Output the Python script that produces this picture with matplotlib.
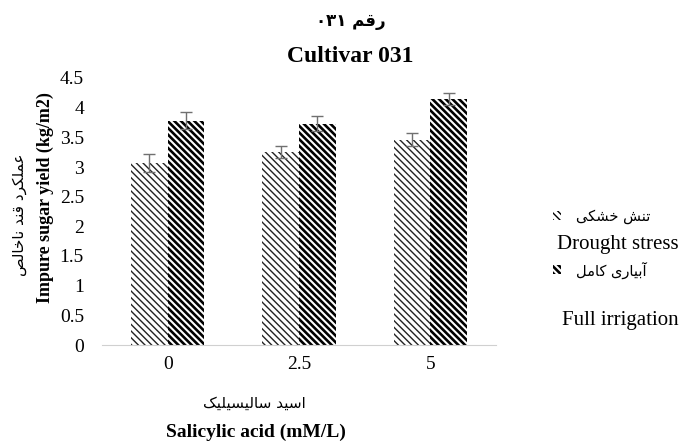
import numpy as np
import matplotlib
matplotlib.use('Agg')
import matplotlib.pyplot as plt
from matplotlib.patches import Rectangle

# data
categories = ['0', '2.5', '5']
drought = [3.07, 3.26, 3.46]
drought_err = [0.15, 0.10, 0.11]
full_irr = [3.78, 3.73, 4.14]
full_err = [0.14, 0.13, 0.10]
yticks = [0, 0.5, 1, 1.5, 2, 2.5, 3, 3.5, 4, 4.5]

title_fa = 'رقم'
title_digits = '۰۳۱'
title_en = 'Cultivar 031'
ylabel_fa = 'عملکرد قند ناخالص'
ylabel_en = 'Impure sugar yield (kg/m2)'
xlabel_fa = 'اسید سالیسیلیک'
xlabel_en = 'Salicylic acid (mM/L)'
leg_fa = ['تنش خشکی', 'آبیاری کامل']
leg_en = ['Drought stress', 'Full irrigation']

# presentation forms: isolated, final, initial, medial
forms = {
    'ا': ('\uFE8D', '\uFE8E', None, None),
    'آ': ('\uFE81', '\uFE82', None, None),
    'د': ('\uFEA9', '\uFEAA', None, None),
    'ر': ('\uFEAD', '\uFEAE', None, None),
    'ب': ('\uFE8F', '\uFE90', '\uFE91', '\uFE92'),
    'ت': ('\uFE95', '\uFE96', '\uFE97', '\uFE98'),
    'خ': ('\uFEA5', '\uFEA6', '\uFEA7', '\uFEA8'),
    'س': ('\uFEB1', '\uFEB2', '\uFEB3', '\uFEB4'),
    'ش': ('\uFEB5', '\uFEB6', '\uFEB7', '\uFEB8'),
    'ص': ('\uFEB9', '\uFEBA', '\uFEBB', '\uFEBC'),
    'ع': ('\uFEC9', '\uFECA', '\uFECB', '\uFECC'),
    'ق': ('\uFED5', '\uFED6', '\uFED7', '\uFED8'),
    'ل': ('\uFEDD', '\uFEDE', '\uFEDF', '\uFEE0'),
    'م': ('\uFEE1', '\uFEE2', '\uFEE3', '\uFEE4'),
    'ن': ('\uFEE5', '\uFEE6', '\uFEE7', '\uFEE8'),
    'ک': ('\uFB8E', '\uFB8F', '\uFB90', '\uFB91'),
    'ی': ('\uFBFC', '\uFBFD', '\uFBFE', '\uFBFF'),
}

def shape(s):
    # join letters by hand and put them in visual order
    out = []
    for i, c in enumerate(s):
        if c not in forms:
            out.append(c)
            continue
        prev = s[i-1] if i > 0 else None
        nxt = s[i+1] if i < len(s)-1 else None
        join_prev = prev in forms and forms[prev][2] is not None
        join_next = forms[c][2] is not None and nxt in forms
        f = forms[c]
        if join_prev and join_next:
            out.append(f[3])
        elif join_prev:
            out.append(f[1])
        elif join_next:
            out.append(f[2])
        else:
            out.append(f[0])
    return ''.join(out[::-1])

serif = 'Liberation Serif'
fa_font = ['DejaVu Sans']
hatch = '\\' * 5

fig = plt.figure(figsize=(6.84, 4.41), dpi=100)
ax = fig.add_axes([102/684, 1-345/441, 394/684, (345-78)/441])

x = np.arange(len(categories))
w = 0.28
with plt.rc_context({'hatch.linewidth': 1.0}):
    ax.bar(x - w/2, drought, w, color='white', edgecolor='#222222', linewidth=0, hatch=hatch)
with plt.rc_context({'hatch.linewidth': 1.9}):
    ax.bar(x + w/2, full_irr, w, color='white', edgecolor='black', linewidth=0, hatch=hatch)
ax.errorbar(x - w/2, drought, yerr=drought_err, fmt='none', ecolor='#707070', elinewidth=1, capsize=4, capthick=1)
ax.errorbar(x + w/2, full_irr, yerr=full_err, fmt='none', ecolor='#707070', elinewidth=1, capsize=4, capthick=1)

ax.set_xlim(-0.5, 2.5)
ax.set_ylim(0, 4.5)
ax.set_yticks(yticks)
ax.set_yticklabels([('%g' % v) for v in yticks], fontfamily=serif, fontsize=14)
ax.set_xticks(x)
ax.set_xticklabels(categories, fontfamily=serif, fontsize=14)
ax.tick_params(axis='y', length=0, pad=13)
ax.tick_params(axis='x', length=0, pad=8)
for s in ['top', 'right', 'left']:
    ax.spines[s].set_visible(False)
ax.spines['bottom'].set_color('#d0d0d0')

# titles
fig.text(351/684, 1-21/441, title_digits + ' ' + shape(title_fa), ha='center', va='center',
         fontsize=12, fontweight='bold', family=fa_font)
fig.text(350/684, 1-57/441, title_en, ha='center', va='center', fontsize=17, fontweight='bold', family=serif)

# axis labels
fig.text(20/684, 1-215/441, shape(ylabel_fa), rotation=90, ha='center', va='center', fontsize=11, family=fa_font)
fig.text(45/684, 1-198/441, ylabel_en, rotation=90, ha='center', va='center', fontsize=13, fontweight='bold', family=serif)
fig.text(254/684, 1-403/441, shape(xlabel_fa), ha='center', va='center', fontsize=11, family=fa_font)
fig.text(256/684, 1-432/441, xlabel_en, ha='center', va='center', fontsize=14, fontweight='bold', family=serif)

# legend
leg_y = [216, 270]
en_y = [245, 321]
en_x = [618, 620]
lw = [1.0, 1.9]
for i in range(2):
    with plt.rc_context({'hatch.linewidth': lw[i]}):
        r = Rectangle((553/684, 1-(leg_y[i]+4)/441), 8/684, 9/441, transform=fig.transFigure,
                      facecolor='white', edgecolor='black', linewidth=0, hatch=hatch)
        fig.patches.append(r)
    fig.text(576/684, 1-leg_y[i]/441, shape(leg_fa[i]), ha='left', va='center', fontsize=10.5, family=fa_font)
    fig.text(en_x[i]/684, 1-en_y[i]/441, leg_en[i], ha='center', va='center', fontsize=15, family=serif)

fig.savefig('out.png', dpi=100)
